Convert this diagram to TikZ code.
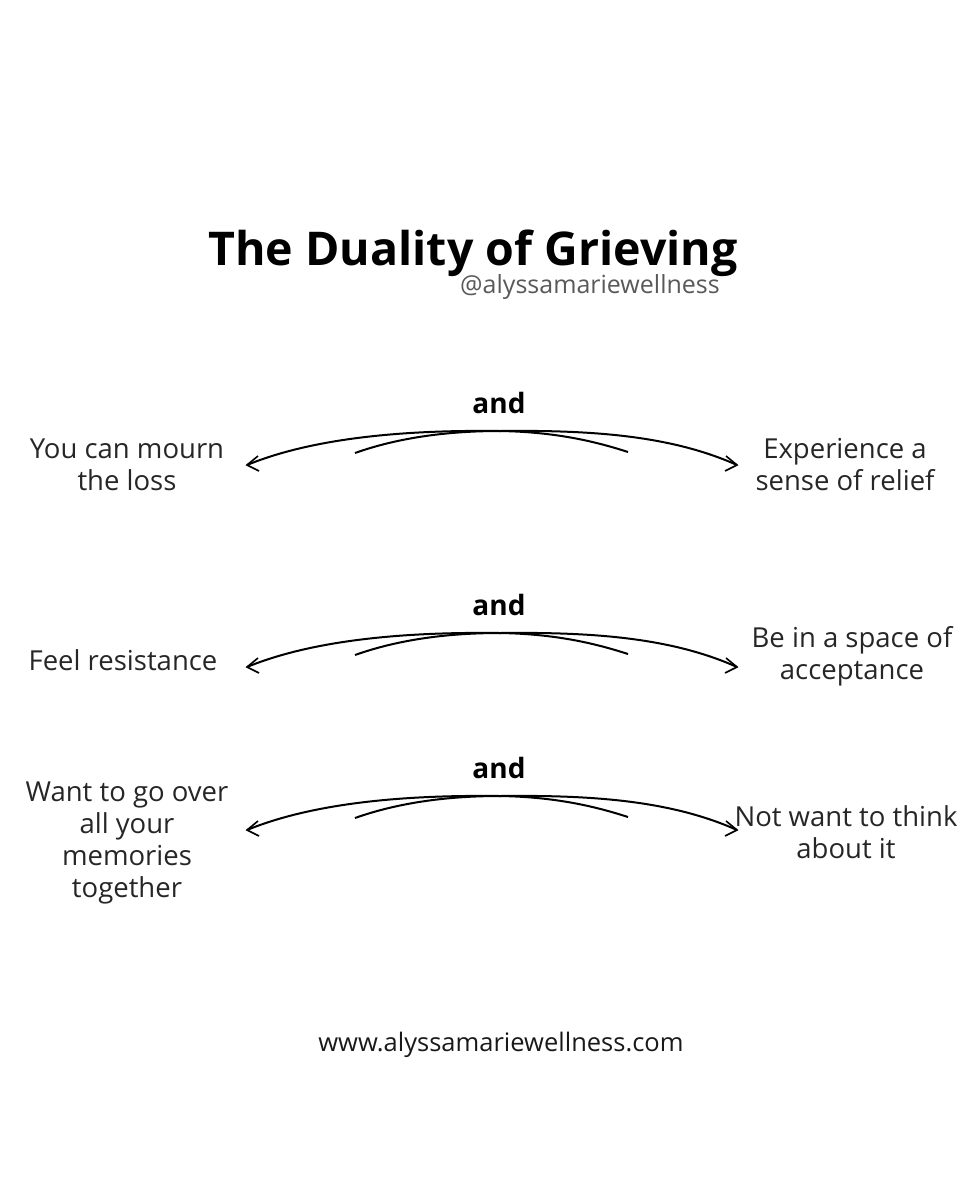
\documentclass[tikz,border=0pt]{standalone}
\usepackage{fontspec}
\setmainfont{Open Sans}
\begin{document}
\begin{tikzpicture}[x=1pt,y=-1pt,
  lbl/.style={align=center,font=\fontsize{27.5}{32}\selectfont,text=black!85},
  andl/.style={font=\fontsize{28}{32}\selectfont\bfseries},
  arc/.style={line width=2pt},
  tip/.style={line width=1.6pt}]
\useasboundingbox (0,0) rectangle (960,1200);
\node[font=\fontsize{46.5}{52}\selectfont\bfseries] (title) at (473,253) {The Duality of Grieving};
\node[font=\fontsize{25}{28}\selectfont,text=black!65] (handle) at (590,287) {@alyssamariewellness};
\foreach \r/\y in {1/465,2/667,3/830}{
  \node[andl] (and\r) at (499,\y-62) {and};
  \coordinate (L\r) at (247,\y);
  \coordinate (R\r) at (737,\y);
  \coordinate (a\r) at (355,\y-12);
  \coordinate (b\r) at (628,\y-13);
  \draw[arc] (L\r) .. controls (320,\y-30) and (420,\y-35) .. (500,\y-34) .. controls (560,\y-33) and (600,\y-22) .. (b\r);
  \draw[arc] (a\r) .. controls (400,\y-28) and (450,\y-34) .. (500,\y-34) .. controls (590,\y-35) and (670,\y-30) .. (R\r);
  \draw[tip] (L\r) ++(11,-9) -- (L\r) -- ++(12,6);
  \draw[tip] (R\r) ++(-11,-9) -- (R\r) -- ++(-12,6);
}
\node[lbl] (l1) at (127,465) {You can mourn\\the loss};
\node[lbl] (r1) at (845,465) {Experience a\\sense of relief};
\node[lbl] (l2) at (123,660) {Feel resistance};
\node[lbl] (r2) at (852,656) {Be in a space of\\acceptance};
\node[lbl] (l3) at (127,843) {Want to go over\\all your\\memories\\together};
\node[lbl] (r3) at (846,832) {Not want to think\\about it};
\node[font=\fontsize{25.5}{28}\selectfont,text=black!90] (web) at (501,1045) {www.alyssamariewellness.com};
\end{tikzpicture}
\end{document}
